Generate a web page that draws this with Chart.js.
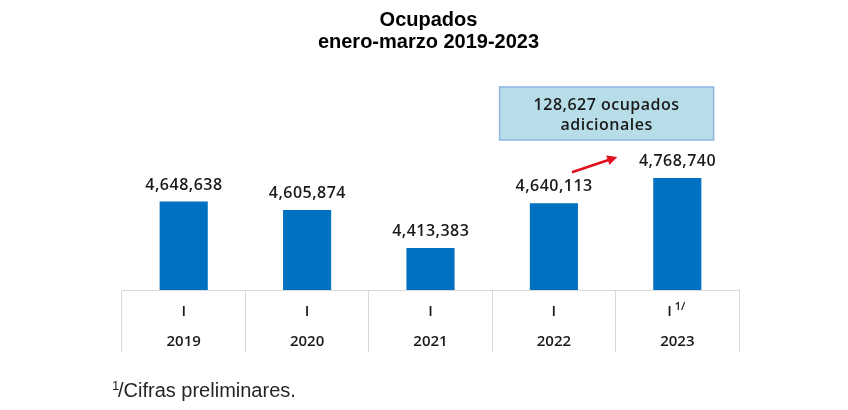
<!DOCTYPE html>
<html>
<head>
<meta charset="utf-8">
<script src="https://cdn.jsdelivr.net/npm/chart.js@4.4.0/dist/chart.umd.min.js"></script>
<style>
html, body { margin: 0; padding: 0; background: #fff; }
#wrap { width: 848px; height: 410px; }
</style>
</head>
<body>
<div id="wrap"><canvas id="chart-ocupados" width="848" height="410"></canvas></div>
<script>
const years = ['2019', '2020', '2021', '2022', '2023'];
const periods = ['I', 'I', 'I', 'I', 'I'];
const notes = ['', '', '', '', '1/'];
const ocupados = [4648638, 4605874, 4413383, 4640113, 4768740];
const titleLines = ['Ocupados', 'enero-marzo 2019-2023'];
const calloutLines = ['128,627 ocupados', 'adicionales'];
const footnoteMark = '1';
const footnoteText = '/Cifras preliminares.';

const extras = {
    id: 'extras',
    afterDraw(chart) {
        const ctx = chart.ctx;
        const area = chart.chartArea;
        const bars = chart.getDatasetMeta(0).data;
        const xScale = chart.scales.x;
        ctx.save();

        // title
        ctx.fillStyle = '#000';
        ctx.textAlign = 'center';
        ctx.textBaseline = 'alphabetic';
        ctx.font = 'bold 20px "Liberation Sans"';
        const cx = (area.left + area.right) / 2 - 2;
        ctx.fillText(titleLines[0], cx, 26);
        ctx.fillText(titleLines[1], cx, 48);

        // value labels
        ctx.font = '600 16px "Open Sans"';
        ctx.letterSpacing = '0.5px';
        ctx.fillStyle = '#1a1a1a';
        bars.forEach((bar, i) => {
            ctx.fillText(ocupados[i].toLocaleString('en-US'), bar.x + 0.25, bar.y - 12);
        });

        // callout box
        const b22 = bars[3], b23 = bars[4];
        const boxW = 214, boxH = 53;
        const boxX = (b22.x + b23.x) / 2 - 9 - boxW / 2;
        const boxY = b23.y - 38 - boxH;
        ctx.fillStyle = '#b7dee8';
        ctx.fillRect(boxX, boxY, boxW, boxH);
        ctx.strokeStyle = '#8eb4e3';
        ctx.lineWidth = 1.5;
        ctx.strokeRect(boxX, boxY, boxW, boxH);
        ctx.fillStyle = '#1a1a1a';
        ctx.fillText(calloutLines[0], boxX + boxW / 2, boxY + 23);
        ctx.fillText(calloutLines[1], boxX + boxW / 2, boxY + 43);
        ctx.letterSpacing = '0px';

        // arrow
        const sx = b22.x + 18, sy = b22.y - 31;
        const ex = b23.x - 60, ey = b23.y - 21;
        const ang = Math.atan2(ey - sy, ex - sx);
        ctx.strokeStyle = '#e0101e';
        ctx.fillStyle = '#e0101e';
        ctx.lineWidth = 2.5;
        ctx.beginPath();
        ctx.moveTo(sx, sy);
        ctx.lineTo(ex - 7 * Math.cos(ang), ey - 7 * Math.sin(ang));
        ctx.stroke();
        ctx.beginPath();
        ctx.moveTo(ex, ey);
        ctx.lineTo(ex - 10 * Math.cos(ang) + 5 * Math.sin(ang), ey - 10 * Math.sin(ang) - 5 * Math.cos(ang));
        ctx.lineTo(ex - 10 * Math.cos(ang) - 5 * Math.sin(ang), ey - 10 * Math.sin(ang) + 5 * Math.cos(ang));
        ctx.closePath();
        ctx.fill();

        // superscript note next to period label
        ctx.font = '600 15px "Open Sans"';
        const padded = ctx.measureText('I    ').width;
        const iw = ctx.measureText('I').width;
        ctx.fillStyle = '#1a1a1a';
        ctx.textAlign = 'left';
        ctx.font = '600 11px "Open Sans"';
        notes.forEach((n, i) => {
            if (!n) return;
            const px = xScale.getPixelForValue(i) - padded / 2 + iw + 3;
            ctx.fillText(n, px, area.bottom + 20);
        });

        // footnote
        ctx.fillStyle = '#262626';
        ctx.font = '13px "Liberation Sans"';
        ctx.fillText(footnoteMark, 112, 390);
        ctx.font = '20px "Liberation Sans"';
        ctx.fillText(footnoteText, 118, 397);

        ctx.restore();
    }
};

new Chart(document.getElementById('chart-ocupados'), {
    type: 'bar',
    data: {
        labels: years,
        datasets: [{
            data: ocupados,
            backgroundColor: '#0070c0',
            borderWidth: 0,
            barPercentage: 0.39,
            categoryPercentage: 1
        }]
    },
    options: {
        responsive: false,
        animation: false,
        devicePixelRatio: 1,
        layout: {
            padding: { left: 122, right: 109, top: 60, bottom: 58 }
        },
        plugins: {
            legend: { display: false },
            title: { display: false },
            tooltip: { enabled: false }
        },
        scales: {
            y: {
                display: false,
                min: 4200000,
                max: 5367600
            },
            x: {
                afterFit: function(scale) { scale.height = 62; },
                grid: {
                    offset: true,
                    color: '#d9d9d9',
                    drawOnChartArea: false,
                    drawTicks: true,
                    tickLength: 62
                },
                border: { display: true, color: '#d9d9d9' },
                ticks: {
                    padding: -55,
                    color: '#1a1a1a',
                    maxRotation: 0,
                    autoSkip: false,
                    font: { family: 'Open Sans', weight: '600', size: 15, lineHeight: 2 },
                    callback: function(value, index) {
                        const p = notes[index] ? periods[index] + '    ' : periods[index];
                        return [p, years[index]];
                    }
                }
            }
        }
    },
    plugins: [extras]
});
</script>
</body>
</html>
